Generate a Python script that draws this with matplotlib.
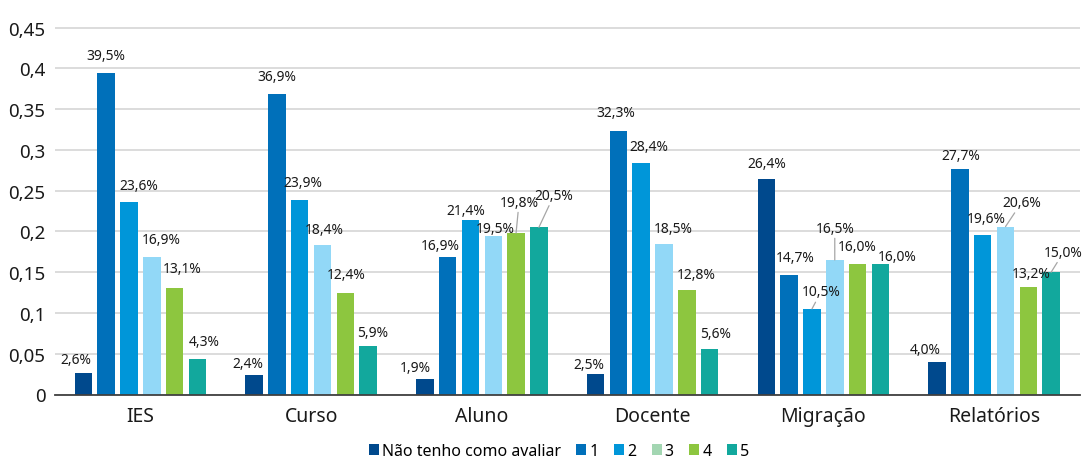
import matplotlib
matplotlib.use("Agg")
import matplotlib.pyplot as plt
from matplotlib.patches import Patch
import numpy as np

plt.rcParams['font.family'] = ['Noto Sans', 'DejaVu Sans']

# ---- data ----
categories = ["IES", "Curso", "Aluno", "Docente", "Migração", "Relatórios"]
series_names = ["Não tenho como avaliar", "1", "2", "3", "4", "5"]

nao_avaliar = [0.026, 0.024, 0.019, 0.025, 0.264, 0.040]
nota_1 = [0.395, 0.369, 0.169, 0.323, 0.147, 0.277]
nota_2 = [0.236, 0.239, 0.214, 0.284, 0.105, 0.196]
nota_3 = [0.169, 0.184, 0.195, 0.185, 0.165, 0.206]
nota_4 = [0.131, 0.124, 0.198, 0.128, 0.160, 0.132]
nota_5 = [0.043, 0.059, 0.205, 0.056, 0.160, 0.150]
series_values = [nao_avaliar, nota_1, nota_2, nota_3, nota_4, nota_5]

y_ticks = [0, 0.05, 0.1, 0.15, 0.2, 0.25, 0.3, 0.35, 0.4, 0.45]
y_tick_labels = ["0", "0,05", "0,1", "0,15", "0,2", "0,25", "0,3", "0,35", "0,4", "0,45"]

# ---- styling ----
bar_colors = ["#00498D", "#0070BA", "#0096D9", "#92D8F7", "#8DC63F", "#12A89D"]
legend_colors = ["#00498D", "#0070BA", "#0096D9", "#A3D6B2", "#8DC63F", "#12A89D"]
slot = 0.1335
bar_w = 0.1025

# label offsets in pixels (dx, dy, leader line) relative to bar top centre
label_pos = {
    (0, 0): (-7.5, 14, False), (0, 1): (0, 17, False), (0, 2): (10, 17, False),
    (0, 3): (9, 17, False), (0, 4): (8, 19, False), (0, 5): (6.5, 18, False),
    (1, 0): (-6.5, 11, False), (1, 1): (0, 17, False), (1, 2): (3, 17, False),
    (1, 3): (2, 15, False), (1, 4): (1, 19, False), (1, 5): (5, 14, False),
    (2, 0): (-10, 12, False), (2, 1): (-7.5, 11.5, False), (2, 2): (-4.5, 10, False),
    (2, 3): (2, 7.5, False), (2, 4): (3, 31, True), (2, 5): (15, 32, True),
    (3, 0): (-6.5, 10, False), (3, 1): (-3, 19, False), (3, 2): (7.5, 16.5, False),
    (3, 3): (9, 15.5, False), (3, 4): (9.3, 16, False), (3, 5): (6, 15.5, False),
    (4, 0): (0, 16, False), (4, 1): (6, 17, False), (4, 2): (9, 17, True),
    (4, 3): (0, 32, True), (4, 4): (0, 18, False), (4, 5): (17, 8, False),
    (5, 0): (-11.5, 12.5, False), (5, 1): (1, 13, False), (5, 2): (3.7, 16, False),
    (5, 3): (16, 24, True), (5, 4): (3, 13, False), (5, 5): (12.5, 20, True),
}

dpi = 100
fig = plt.figure(figsize=(10.84, 4.60), dpi=dpi)
ax = fig.add_axes([55 / 1084, 1 - 395.5 / 460, (1079.5 - 55) / 1084, (395.5 - 28.3) / 460])

x = np.arange(len(categories))
px2pt = 72.0 / dpi

for s, vals in enumerate(series_values):
    xs = x + (s - 2.5) * slot
    ax.bar(xs, vals, width=bar_w, color=bar_colors[s], zorder=3)
    for c, (xv, v) in enumerate(zip(xs, vals)):
        dx, dy, leader = label_pos[(c, s)]
        label = f"{v * 100:.1f}%".replace(".", ",")
        arrow = None
        if leader:
            arrow = dict(arrowstyle="-", color="#A6A6A6", lw=0.9,
                         shrinkA=0, shrinkB=0)
        ax.annotate(label, xy=(xv, v), xytext=(dx * px2pt, dy * px2pt),
                    textcoords="offset points", ha="center", va="center",
                    fontsize=10, color="#1a1a1a", arrowprops=arrow, zorder=4)

ax.set_xlim(-0.5, len(categories) - 0.5)
ax.set_ylim(0, 0.4505)
ax.set_xticks(x)
ax.set_xticklabels(categories, fontsize=14, color="#1a1a1a")
ax.set_yticks(y_ticks)
ax.set_yticklabels(y_tick_labels, fontsize=13.5, color="#1a1a1a")
ax.tick_params(axis="both", length=0)
ax.tick_params(axis="y", pad=7)
ax.tick_params(axis="x", pad=8)

ax.yaxis.grid(True, color="#D9D9D9", lw=1.3, zorder=0)
ax.set_axisbelow(True)
for side in ["top", "right", "left"]:
    ax.spines[side].set_visible(False)
ax.spines["bottom"].set_color("#404040")
ax.spines["bottom"].set_linewidth(1.3)
ax.spines["bottom"].set_zorder(5)

handles = [Patch(facecolor=col, edgecolor="none") for col in legend_colors]
fig.legend(handles, series_names, loc="center", bbox_to_anchor=(559 / 1084, 1 - 452 / 460),
           ncol=6, frameon=False, fontsize=11.5, handlelength=0.63, handleheight=0.63,
           handletextpad=0.2, columnspacing=0.95, borderpad=0)

fig.savefig("out.png", dpi=dpi)
